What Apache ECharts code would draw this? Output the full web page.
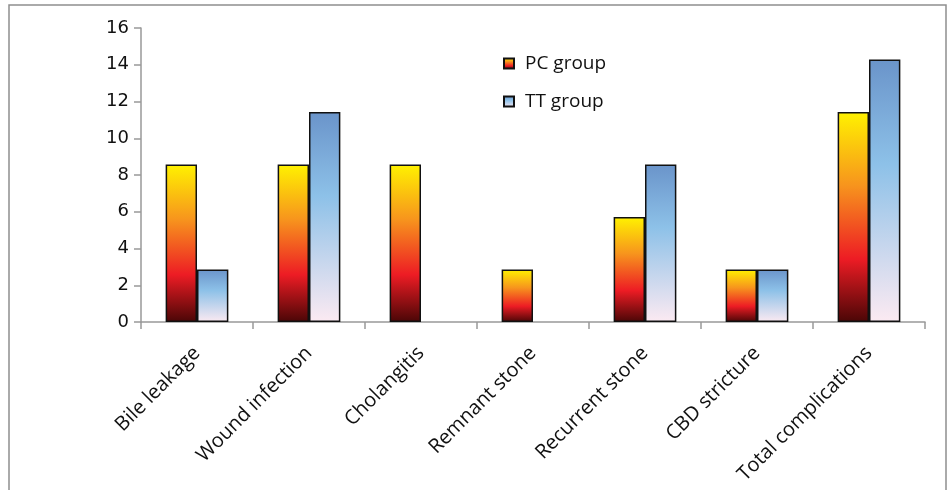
<!DOCTYPE html>
<html>
<head>
<meta charset="utf-8">
<script src="https://cdn.jsdelivr.net/npm/echarts@6/dist/echarts.min.js"></script>
<style>html,body{margin:0;padding:0;background:#fff}#c{width:952px;height:490px}</style>
</head>
<body>
<div id="c"></div>
<script>
var categories = ['Bile leakage', 'Wound infection', 'Cholangitis', 'Remnant stone', 'Recurrent stone', 'CBD stricture', 'Total complications'];
var pcValues = [8.57, 8.57, 8.57, 2.86, 5.71, 2.86, 11.43];
var ttValues = [2.86, 11.43, 0, 0, 8.57, 2.86, 14.29];
var seriesNames = ['PC group', 'TT group'];

var pcGrad = new echarts.graphic.LinearGradient(0, 0, 0, 1, [
  {offset: 0, color: '#FFF200'},
  {offset: 0.35, color: '#F7941D'},
  {offset: 0.7, color: '#ED1C24'},
  {offset: 1, color: '#4A0606'}
]);
var ttGrad = new echarts.graphic.LinearGradient(0, 0, 0, 1, [
  {offset: 0, color: '#6A94CA'},
  {offset: 0.4, color: '#8DC1E8'},
  {offset: 1, color: '#FCEAF2'}
]);

function toData(arr) {
  return arr.map(function (v) {
    return v === 0 ? {value: 0, itemStyle: {borderWidth: 0}} : v;
  });
}

var chart = echarts.init(document.getElementById('c'));
chart.setOption({
  animation: false,
  backgroundColor: '#fff',
  graphic: [{
    type: 'rect', silent: true,
    shape: {x: 9, y: 5, width: 937, height: 500},
    style: {fill: 'none', stroke: '#8f8f8f', lineWidth: 1.5}
  }],
  grid: {left: 141, right: 27, top: 28, bottom: 168},
  legend: {
    orient: 'vertical', left: 498, top: 49, itemGap: 19,
    itemWidth: 10, itemHeight: 10, icon: 'rect',
    textStyle: {fontFamily: 'Open Sans', fontSize: 19, color: '#111', padding: [0, 0, 0, 6]},
    data: seriesNames
  },
  xAxis: {
    type: 'category', data: categories,
    axisLine: {lineStyle: {color: '#999', width: 1.5}},
    axisTick: {show: true, length: 7, lineStyle: {color: '#999', width: 1.5}},
    axisLabel: {rotate: 45, margin: 28, fontFamily: 'Open Sans', fontSize: 20, color: '#111', interval: 0}
  },
  yAxis: {
    type: 'value', min: 0, max: 16, interval: 2,
    splitLine: {show: false},
    axisLine: {show: true, lineStyle: {color: '#999', width: 1.5}},
    axisTick: {show: true, length: 7, lineStyle: {color: '#999', width: 1.5}},
    axisLabel: {fontFamily: 'DejaVu Sans', fontSize: 18, color: '#111', margin: 12}
  },
  series: [{
    name: seriesNames[0], type: 'bar', data: toData(pcValues),
    barGap: '0%', barCategoryGap: '44%',
    itemStyle: {color: pcGrad, borderColor: '#111', borderWidth: 1.5}
  }, {
    name: seriesNames[1], type: 'bar', data: toData(ttValues),
    barGap: '0%', barCategoryGap: '44%',
    itemStyle: {color: ttGrad, borderColor: '#111', borderWidth: 1.5}
  }]
});
</script>
</body>
</html>
